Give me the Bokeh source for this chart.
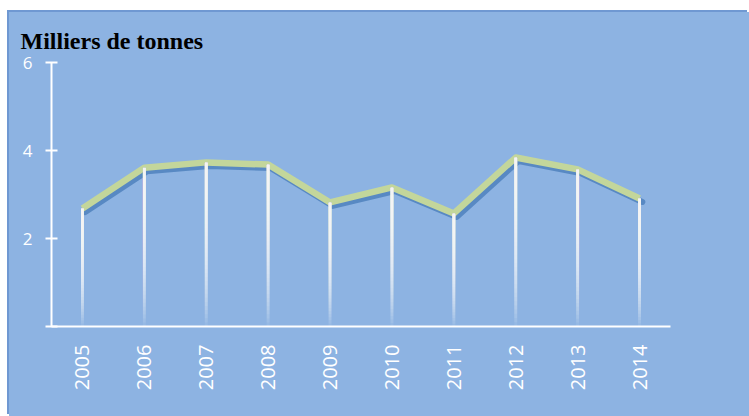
from bokeh.plotting import figure
from bokeh.models import ColumnDataSource, FixedTicker
from bokeh.transform import dodge
from bokeh.embed import file_html
from bokeh.resources import INLINE
import math

years = ["2005", "2006", "2007", "2008", "2009", "2010", "2011", "2012", "2013", "2014"]
values = [2.68, 3.61, 3.73, 3.68, 2.82, 3.16, 2.57, 3.84, 3.57, 2.91]
y_ticks = [0, 2, 4, 6]
title_text = "Milliers de tonnes"

BG = "#8DB3E2"

p = figure(x_range=years, y_range=(0, 6), width=740, height=404,
           output_backend="svg", toolbar_location=None, title=title_text,
           min_border_left=42, min_border_right=79, min_border_top=50, min_border_bottom=90,
           background_fill_color=None, border_fill_color=None)
p.margin = (12, 0, 0, 9)
p.styles = {"box-shadow": "-2px -2px 0 0 #6F98D2", "background-color": BG}
p.outline_line_color = None
p.grid.grid_line_color = None

p.title.align = "left"
p.title.offset = -31
p.title.standoff = 17
p.title.text_font = "Liberation Serif"
p.title.text_font_style = "bold"
p.title.text_font_size = "24px"
p.title.text_color = "black"

# shadow line
shadow_src = ColumnDataSource(dict(x=years, y=[v - 0.08 for v in values]))
p.line(x=dodge("x", 0.045, range=p.x_range), y="y", source=shadow_src,
       line_color="#4F81BD", line_width=6, line_alpha=0.85, line_cap="round", line_join="round")
# main line
p.line(x=years, y=values, line_color="#C3D69B", line_width=6.5, line_join="round")

# drop lines: overlapping translucent segments from the top give a fade to the bottom
N = 40
xs, y0s, y1s = [], [], []
for yr, v in zip(years, values):
    for k in range(N):
        xs.append(yr)
        y0s.append(v * k / N)
        y1s.append(v)
p.segment(x0=xs, y0=y0s, x1=xs, y1=y1s, line_color="white", line_width=3,
          line_alpha=0.08, line_cap="butt")

# axes
p.yaxis.ticker = FixedTicker(ticks=y_ticks)
p.yaxis.major_label_overrides = {0: ""}
p.yaxis.minor_tick_line_color = None
p.yaxis.axis_line_color = "white"
p.yaxis.axis_line_width = 2
p.yaxis.major_tick_line_color = "white"
p.yaxis.major_tick_line_width = 2
p.yaxis.major_tick_in = 6
p.yaxis.major_tick_out = 6
p.yaxis.major_label_standoff = 13
p.yaxis.major_label_text_color = "white"
p.yaxis.major_label_text_font = "Open Sans"
p.yaxis.major_label_text_font_size = "17px"

p.xaxis.axis_line_color = "white"
p.xaxis.axis_line_width = 2
p.xaxis.major_tick_line_color = None
p.xaxis.major_tick_out = 0
p.xaxis.major_tick_in = 0
p.xaxis.major_label_orientation = math.pi / 2
p.xaxis.major_label_standoff = 18
p.xaxis.major_label_text_color = "white"
p.xaxis.major_label_text_font = "Open Sans"
p.xaxis.major_label_text_font_size = "20px"

open("out.html", "w").write(file_html(p, INLINE))
